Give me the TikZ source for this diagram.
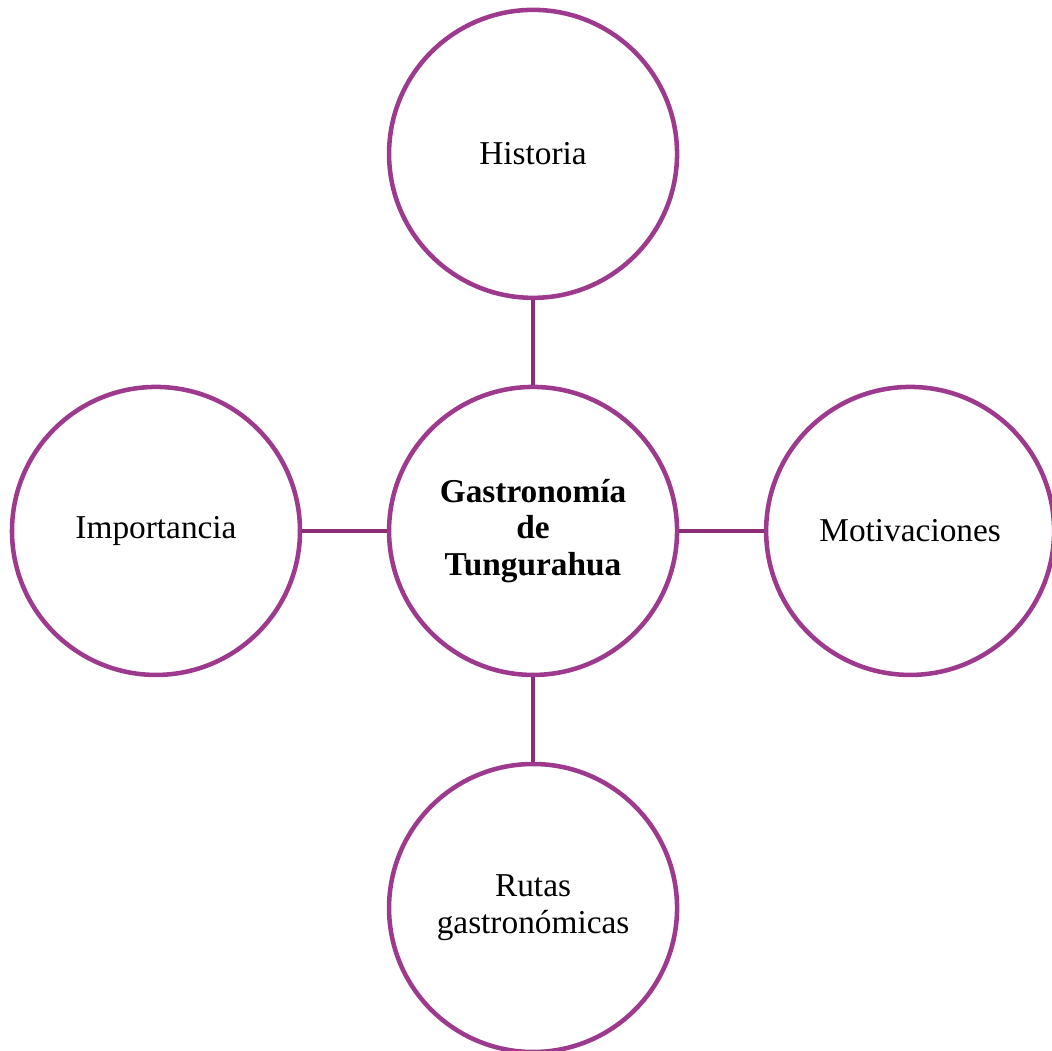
\documentclass[tikz,border=0pt]{standalone}
\usepackage{fontspec}
\setmainfont{Liberation Serif}
\usepackage{xcolor}
\usepackage{tikz}
\usetikzlibrary{positioning}
\definecolor{ringpurple}{HTML}{9E3A8E}
\definecolor{linkpurple}{HTML}{8A2E78}

\begin{document}
\begin{tikzpicture}[
    node distance=31.7pt,
    every node/.style={circle, draw=ringpurple, line width=1.7pt, minimum size=108pt, inner sep=0pt, align=center, font=\fontsize{12.5}{13.8}\selectfont},
    link/.style={line width=1.6pt, color=linkpurple}
]
\useasboundingbox (-199.9pt,-195pt) rectangle (194.6pt,199.1pt);
\node (center) {\textbf{Gastronomía} \\ \textbf{de} \\ \textbf{Tungurahua}};
\node (historia) [above=of center] {Historia};
\node (importancia) [left=of center] {Importancia};
\node (motivaciones) [right=of center] {Motivaciones};
\node (rutas) [below=of center] {Rutas \\ gastronómicas};

\draw[link] (center) -- (historia);
\draw[link] (center) -- (importancia);
\draw[link] (center) -- (motivaciones);
\draw[link] (center) -- (rutas);
\end{tikzpicture}
\end{document}
